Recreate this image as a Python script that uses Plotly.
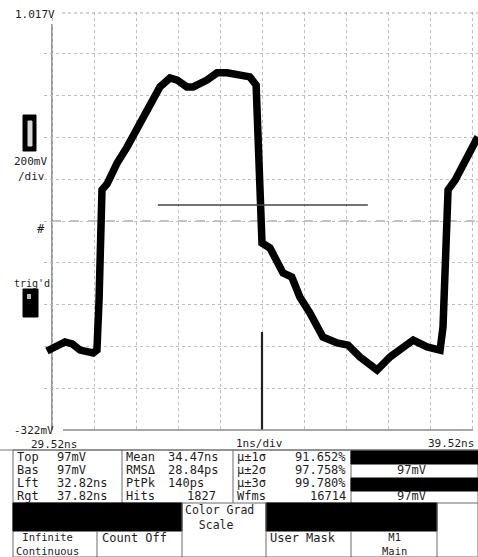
import plotly.graph_objects as go

# ---------------- data ----------------
time_ns = [29.40, 29.64, 29.83, 30.00, 30.19, 30.50, 30.59, 30.64, 30.71, 30.83,
           31.07, 31.31, 31.62, 31.92, 32.09, 32.33, 32.50, 32.73, 32.88, 33.21,
           33.45, 33.69, 34.00, 34.23, 34.38, 34.42, 34.47, 34.52, 34.71, 34.88,
           35.02, 35.23, 35.42, 35.66, 35.97, 36.31, 36.57, 36.85, 37.26, 37.57,
           38.12, 38.45, 38.76, 38.83, 38.93, 38.95, 39.12, 39.40, 39.66]
volts = [-0.069, -0.050, -0.040, -0.046, -0.066, -0.075, -0.066, 0.094, 0.447, 0.466,
         0.533, 0.585, 0.661, 0.735, 0.777, 0.806, 0.799, 0.777, 0.777, 0.799,
         0.822, 0.822, 0.815, 0.809, 0.783, 0.671, 0.415, 0.277, 0.261, 0.223,
         0.181, 0.168, 0.104, 0.053, -0.024, -0.043, -0.050, -0.088, -0.130, -0.088,
         -0.034, -0.056, -0.066, 0.008, 0.328, 0.447, 0.479, 0.553, 0.617]

t_ticks = [29.52, 30.52, 31.52, 32.52, 33.52, 34.52, 35.52, 36.52, 37.52, 38.52, 39.52]
v_ticks = [-0.322, -0.188, -0.054, 0.080, 0.214, 0.3475, 0.481, 0.615, 0.749, 0.883, 1.017]
v_center = 0.3475

hist_window_t = [32.04, 37.04]
hist_window_v = [0.399, 0.399]
hist_marker_t = [34.52, 34.52]
hist_marker_v = [-0.008, -0.322]

col1_labels = ["Top", "Bas", "Lft", "Rgt"]
col1_values = ["97mV", "97mV", "32.82ns", "37.82ns"]
col2_labels = ["Mean", "RMSΔ", "PtPk", "Hits"]
col2_values = ["34.47ns", "28.84ps", "140ps", "1827"]
col3_labels = ["μ±1σ", "μ±2σ", "μ±3σ", "Wfms"]
col3_values = ["91.652%", "97.758%", "99.780%", "16714"]
col4_values = ["", "97mV", "", "97mV"]

# ---------------- geometry helpers (pixels -> paper) ----------------
W, H = 478, 557
L, R, T, B = 44, 0, 12, 127
PW, PH = W - L - R, H - T - B


def px(x):
    return (x - L) / PW


def py(y):
    return (H - B - y) / PH


FONT = "DejaVu Sans Mono"
TXT = "#1e1e1e"
LINE = "#6a6a6a"

fig = go.Figure()

# waveform
fig.add_trace(go.Scatter(x=time_ns, y=volts, mode="lines",
                         line=dict(color="black", width=7.5),
                         hoverinfo="skip", showlegend=False))
# histogram window line and marker
fig.add_trace(go.Scatter(x=hist_window_t, y=hist_window_v, mode="lines",
                         line=dict(color="#444", width=1.5),
                         hoverinfo="skip", showlegend=False))
fig.add_trace(go.Scatter(x=hist_marker_t, y=hist_marker_v, mode="lines",
                         line=dict(color="#222", width=2.2),
                         hoverinfo="skip", showlegend=False))

shapes = []
# center dashed line
shapes.append(dict(type="line", xref="paper", yref="y", x0=px(52), x1=1, y0=v_center, y1=v_center,
                   line=dict(color="#888", width=1, dash="dash"), layer="below"))
# left axis line
shapes.append(dict(type="line", xref="x", yref="paper", x0=t_ticks[0], x1=t_ticks[0], y0=0, y1=py(24),
                   line=dict(color="#777", width=1.5), layer="below"))
# bottom line
shapes.append(dict(type="line", xref="paper", yref="paper", x0=px(63), x1=px(473), y0=0, y1=0,
                   line=dict(color="#888", width=1.5)))
# top dotted line
shapes.append(dict(type="line", xref="paper", yref="paper", x0=px(62), x1=1, y0=py(13), y1=py(13),
                   line=dict(color="#aaa", width=1, dash="dot")))


def rect(x0, y0, x1, y1, fill=None, lc=LINE, lw=1):
    shapes.append(dict(type="rect", xref="paper", yref="paper",
                       x0=px(x0), x1=px(x1), y0=py(y1), y1=py(y0),
                       fillcolor=fill if fill else "rgba(0,0,0,0)",
                       line=dict(color=lc, width=lw if lw else 0)))


def hline(x0, x1, y, c=LINE, w=1):
    shapes.append(dict(type="line", xref="paper", yref="paper", x0=px(x0), x1=px(x1),
                       y0=py(y), y1=py(y), line=dict(color=c, width=w)))


def vline(x, y0, y1, c=LINE, w=1):
    shapes.append(dict(type="line", xref="paper", yref="paper", x0=px(x), x1=px(x),
                       y0=py(y0), y1=py(y1), line=dict(color=c, width=w)))


# left side icons
rect(23, 115, 36, 151, fill="black", lc="black")
rect(28, 121, 32, 146, fill="#d8d8d8", lc="#d8d8d8")
rect(23, 289, 38, 317, fill="black", lc="black")
rect(27, 294, 31, 299, fill="#bbb", lc="#bbb", lw=0)

# table
hline(0, 478, 450, c="#777")
rect(13, 450, 478, 557)
vline(122, 450, 503)
vline(233, 450, 503)
vline(351, 450, 503)
hline(13, 478, 503)
rect(351, 451, 478, 464, fill="black", lc="black")
rect(351, 478, 478, 491, fill="black", lc="black")
rect(13, 503, 182, 531, fill="black", lc="black")
rect(266, 503, 437, 531, fill="black", lc="black")
vline(182, 503, 557)
vline(266, 503, 557)
vline(437, 503, 557)
vline(97, 531, 557)
vline(351, 531, 557)

annotations = []


def txt(s, x, y, anchor="left", size=12, color=TXT, align=None):
    annotations.append(dict(text=s, xref="paper", yref="paper", x=px(x), y=py(y),
                            xanchor=anchor, yanchor="middle", showarrow=False,
                            align=align if align else ("center" if anchor == "center" else anchor),
                            font=dict(family=FONT, size=size, color=color)))


txt("1.017V", 13, 14, size=11)
txt("200mV", 12, 161, size=11)
txt("/div", 16, 176, size=11)
txt("#", 35, 229, size=12)
txt("trig'd", 12, 283, size=10)
txt("-322mV", 12, 430, size=11)
txt("29.52ns", 29, 444, size=11)
txt("1ns/div", 234, 443, size=11)
txt("39.52ns", 476, 443, anchor="right", size=11)

rows_y = [457, 470, 483, 496]
for i, yy in enumerate(rows_y):
    txt(col1_labels[i], 15, yy)
    txt(col1_values[i], 55, yy)
    txt(col2_labels[i], 124, yy)
    txt(col3_labels[i], 235, yy)
    txt(col3_values[i], 348, yy, anchor="right")
    if col4_values[i]:
        txt(col4_values[i], 411, yy, anchor="center")
for i, yy in enumerate(rows_y):
    if i < 3:
        txt(col2_values[i], 166, yy)
    else:
        txt(col2_values[i], 218, yy, anchor="right")

txt("Color Grad<br>&nbsp;&nbsp;Scale", 183, 517, size=11.5, align="left")
txt("&nbsp;Infinite<br>Continuous", 14, 544, size=10.5, align="left")
txt("Count Off", 100, 538)
txt("User Mask", 268, 538)
txt("M1<br>Main", 394, 544, anchor="center", size=10.5)

x_lo = 29.52 - 8 / 42
x_hi = 29.52 + 426 / 42

fig.update_layout(
    width=W, height=H,
    margin=dict(l=L, r=R, t=T, b=B, pad=0),
    paper_bgcolor="white", plot_bgcolor="white",
    shapes=shapes, annotations=annotations,
    xaxis=dict(range=[x_lo, x_hi], tickvals=t_ticks, showticklabels=False, ticks="",
               showgrid=True, gridcolor="#bdbdbd", griddash="dot", gridwidth=1,
               zeroline=False, showline=False, fixedrange=True),
    yaxis=dict(range=[-0.322, 1.017], tickvals=v_ticks, showticklabels=False, ticks="",
               showgrid=True, gridcolor="#bdbdbd", griddash="dot", gridwidth=1,
               zeroline=False, showline=False, fixedrange=True),
    showlegend=False,
)

fig.write_html("out.html", config={"displayModeBar": False})
